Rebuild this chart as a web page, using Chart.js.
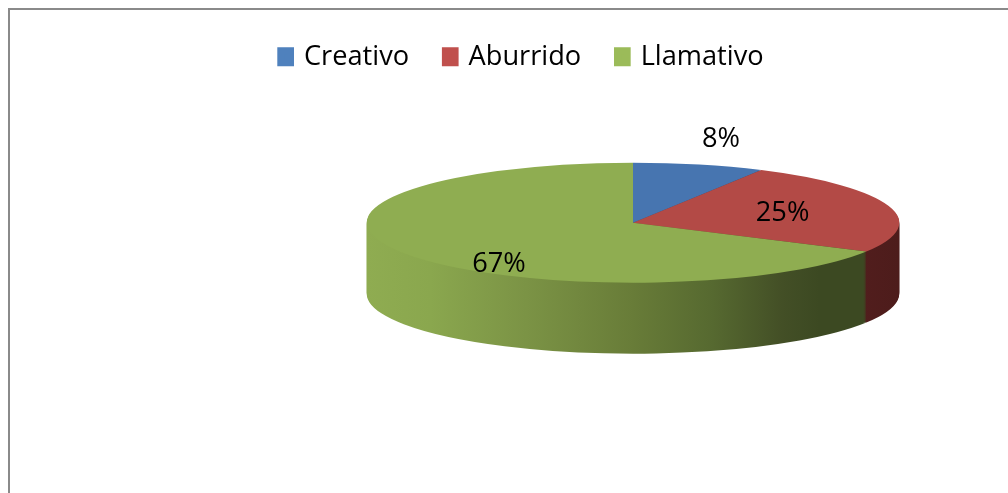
<!DOCTYPE html>
<html><head><meta charset="utf-8">
<script src="https://cdn.jsdelivr.net/npm/chart.js@4"></script>
<style>
html,body{margin:0;padding:0;background:#fff;overflow:hidden}
#wrap{position:relative;width:1008px;height:493px}
#c{display:block}
#frame{position:absolute;left:8px;top:8px;width:1020px;height:500px;border-left:2px solid #8a8a8a;border-top:2px solid #8a8a8a;pointer-events:none}
</style></head>
<body><div id="wrap"><canvas id="c" width="1008" height="493"></canvas><div id="frame"></div></div>
<script>
// ---- data ----
const categories = ['Creativo', 'Aburrido', 'Llamativo'];
const values = [8, 25, 67];
const legendColors = ['#4F81BD', '#C0504D', '#9BBB59'];
const topColors = ['#4775b0', '#b34a46', '#8fad51'];
const sideStops = [
  [[0, '#3f6596'], [0.5, '#35557f'], [1, '#243a57']],
  [[0, '#a2433f'], [0.6, '#7a2f2d'], [0.85, '#561f1f'], [1, '#4d1c1b']],
  [[0, '#8fac51'], [0.12, '#8aa74e'], [0.3, '#7b9345'], [0.5, '#687c38'], [0.65, '#566930'], [0.78, '#434f26'], [0.85, '#3c4922'], [1, '#3c4922']]
];

// ---- 3D look ----
const TILT = 60 / 266.3;   // vertical squash of the pie
const DEPTH = 71;          // thickness of the pie
const FONT = '"Open Sans"';
const FSIZE = 27.2;

function applyTilt(ctx, x, y) { ctx.translate(x, y); ctx.scale(1, TILT); ctx.translate(-x, -y); }

const pie3d = {
  id: 'pie3d',
  beforeDatasetsDraw(chart) {
    const ctx = chart.ctx;
    const arcs = chart.getDatasetMeta(0).data;
    const {x, y, outerRadius} = arcs[0];
    const grads = sideStops.map(stops => {
      const g = ctx.createLinearGradient(x - outerRadius, 0, x + outerRadius, 0);
      stops.forEach(([o, c]) => g.addColorStop(o, c));
      return g;
    });
    for (let d = DEPTH; d >= 1; d--) {
      ctx.save();
      ctx.translate(0, d);
      applyTilt(ctx, x, y);
      arcs.forEach((arc, i) => {
        const saved = arc.options;
        const o = Object.create(saved);
        Object.defineProperty(o, 'backgroundColor', {value: grads[i]});
        Object.defineProperty(o, 'borderWidth', {value: 0});
        arc.options = o;
        arc.draw(ctx);
        arc.options = saved;
      });
      ctx.restore();
    }
    ctx.save();
    applyTilt(ctx, x, y);
  },
  afterDatasetsDraw(chart) {
    const ctx = chart.ctx;
    ctx.restore();
    const arcs = chart.getDatasetMeta(0).data;
    const data = chart.data.datasets[0].data;
    const total = data.reduce((a, b) => a + b, 0);
    ctx.save();
    ctx.font = FSIZE + 'px ' + FONT;
    ctx.fillStyle = '#000';
    ctx.textAlign = 'center';
    ctx.textBaseline = 'middle';
    arcs.forEach((arc, i) => {
      const share = data[i] / total;
      const mid = (arc.startAngle + arc.endAngle) / 2;
      const outside = share < 0.15;
      const f = outside ? 1.33 : 0.585;
      const s = Math.sin(mid);
      const lx = arc.x + Math.cos(mid) * arc.outerRadius * f;
      let ly = arc.y + s * arc.outerRadius * TILT * f;
      if (s > 0) ly += DEPTH * 0.65 * s;
      if (outside) ly -= 6;
      ctx.fillText(Math.round(share * 100) + '%', lx, ly);
    });
    ctx.restore();
  }
};

new Chart(document.getElementById('c'), {
  type: 'pie',
  data: {
    labels: categories,
    datasets: [{
      data: values,
      backgroundColor: topColors,
      borderWidth: 0,
      radius: 266.3
    }]
  },
  options: {
    responsive: false,
    animation: false,
    devicePixelRatio: 1,
    events: [],
    layout: {padding: {left: 244.5, right: 0, top: 6.8, bottom: 128}},
    plugins: {
      tooltip: {enabled: false},
      title: {
        display: true,
        text: ' ',
        position: 'left',
        font: {size: 10, lineHeight: 1},
        padding: {top: 0, bottom: 3.5}
      },
      legend: {
        position: 'top',
        align: 'start',
        labels: {
          color: '#000',
          font: {family: FONT, size: FSIZE},
          boxWidth: 9.5,
          boxHeight: 11.8,
          padding: 36.4,
          generateLabels(chart) {
            return chart.data.labels.map((t, i) => ({
              text: t, fillStyle: legendColors[i], strokeStyle: legendColors[i],
              lineWidth: 7.2, hidden: false, index: i, fontColor: '#000'
            }));
          }
        }
      }
    }
  },
  plugins: [pie3d]
});
</script>
</body></html>
